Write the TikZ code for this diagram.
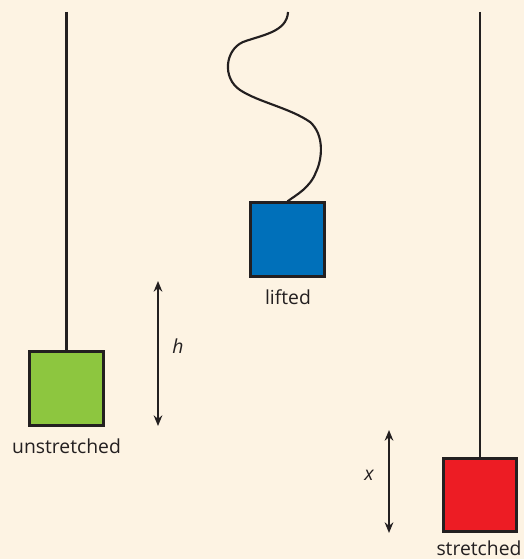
\documentclass[tikz,border=0pt]{standalone}
\usepackage{fontspec}
\setmainfont{Open Sans}
\usetikzlibrary{arrows.meta}
\definecolor{paper}{HTML}{FDF3E3}
\definecolor{ink}{HTML}{231F20}
\definecolor{massgreen}{HTML}{8DC63F}
\definecolor{massblue}{HTML}{0070BA}
\definecolor{massred}{HTML}{ED1C24}
\tikzset{
  mass/.style={draw=ink, line width=2.2pt, minimum size=55pt, inner sep=0pt},
  string/.style={draw=ink, line width=1.6pt},
  measure/.style={draw=ink, line width=1.4pt, {Stealth[length=8pt,width=6.5pt]}-{Stealth[length=8pt,width=6.5pt]}},
  caption/.style={text=ink, font=\fontsize{14.5}{17}\selectfont, inner sep=0pt}
}
\begin{document}
\begin{tikzpicture}[x=0.75pt, y=-0.75pt]
    % Background
    \fill[paper] (0,0) rectangle (524,559);
    \useasboundingbox (0,0) rectangle (524,559);
    % Unstretched spring
    \node[mass, fill=massgreen] (green) at (66.5,388.5) {};
    \coordinate (greentop) at (66.5,12);
    \draw[string] (greentop) -- (green.north);
    \node[caption] (unstretched) at (66.5,446) {unstretched};
    % Lifted mass, slack string
    \node[mass, fill=massblue] (blue) at (287.5,239.5) {};
    \coordinate (bluetop) at (288,12);
    \draw[string] (bluetop) .. controls (287,32) and (262,35) .. (243,42)
        .. controls (225,50) and (222,78) .. (240,90)
        .. controls (258,102) and (290,108) .. (310,122)
        .. controls (325,135) and (322,160) .. (316,172)
        .. controls (310,188) and (296,195) .. (blue.north);
    \node[caption] (lifted) at (288,297) {lifted};
    % Stretched spring
    \node[mass, fill=massred] (red) at (480,495) {};
    \coordinate (redtop) at (480,12);
    \draw[string] (redtop) -- (red.north);
    \node[caption] (stretched) at (479,548) {stretched};
    % Heights
    \coordinate (htop) at (158,281);
    \coordinate (hbot) at (158,426);
    \draw[measure] (htop) -- (hbot);
    \node[caption, font=\fontsize{14.5}{17}\selectfont\itshape] (hlabel) at (178,346) {h};
    \coordinate (xtop) at (389,430);
    \coordinate (xbot) at (389,533);
    \draw[measure] (xtop) -- (xbot);
    \node[caption, font=\fontsize{14.5}{17}\selectfont\itshape] (xlabel) at (369,475) {x};
\end{tikzpicture}
\end{document}
